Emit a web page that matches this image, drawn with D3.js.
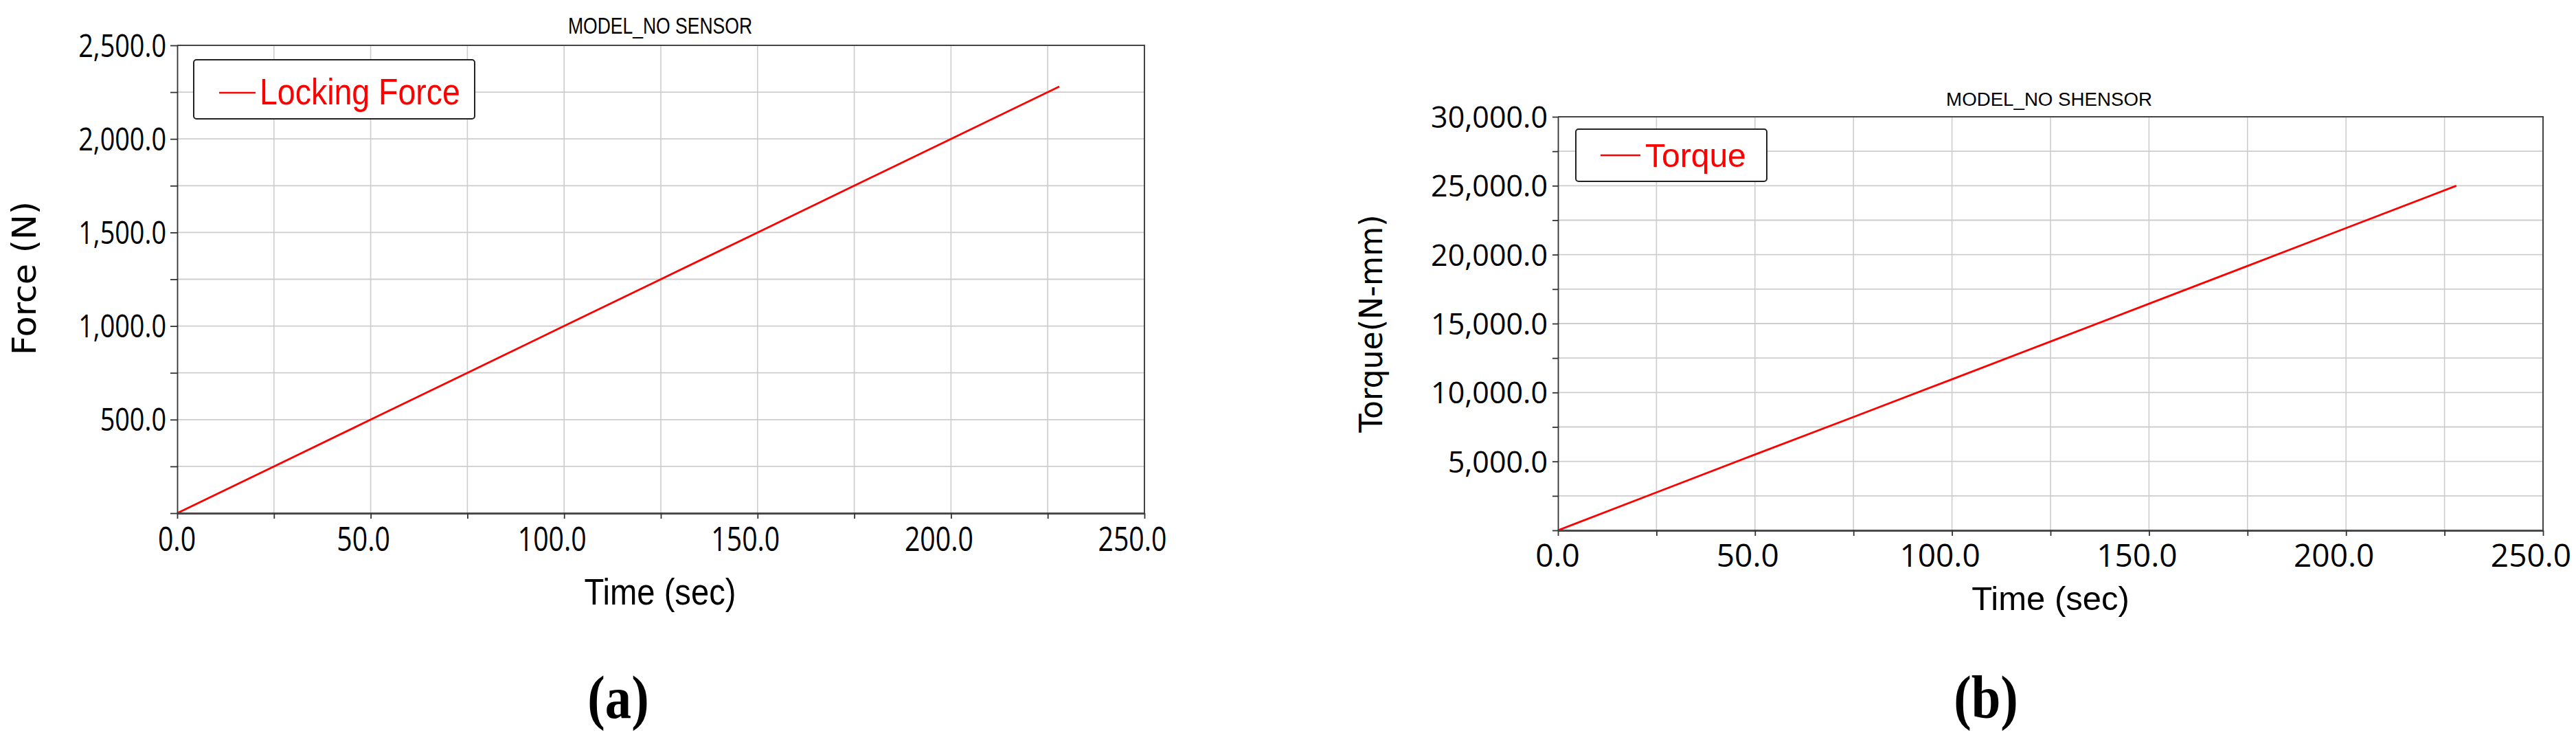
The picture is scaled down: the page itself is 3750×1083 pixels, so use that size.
<!DOCTYPE html>
<html>
<head>
<meta charset="utf-8">
<script src="https://cdn.jsdelivr.net/npm/d3@7"></script>
<style>
  html, body { margin: 0; padding: 0; background: #ffffff; }
  svg { display: block; }
</style>
</head>
<body>
<svg id="chart" width="3750" height="1083"></svg>
<script>
// ---------------- DATA ----------------
// Panel (a): Locking force vs time
const timeA  = [0, 25, 50, 75, 100, 125, 150, 175, 200, 228];
const forceA = [0, 250, 500, 750, 1000, 1250, 1500, 1750, 2000, 2280];
// Panel (b): Torque vs time
const timeB   = [0, 25, 50, 75, 100, 125, 150, 175, 200, 228];
const torqueB = [0, 2750, 5500, 8220, 10960, 13700, 16440, 19180, 21930, 25000];

// Axis ticks / labels
const xTicks      = [0, 25, 50, 75, 100, 125, 150, 175, 200, 225, 250];
const xTickLabels = [0, 50, 100, 150, 200, 250];
const yTicksA      = [0, 250, 500, 750, 1000, 1250, 1500, 1750, 2000, 2250, 2500];
const yTickLabelsA = [500, 1000, 1500, 2000, 2500];
const yTicksB      = [0, 2500, 5000, 7500, 10000, 12500, 15000, 17500, 20000, 22500, 25000, 27500, 30000];
const yTickLabelsB = [5000, 10000, 15000, 20000, 25000, 30000];

// Texts
const titleA = "MODEL_NO SENSOR";
const titleB = "MODEL_NO SHENSOR";
const seriesA = "Locking Force";
const seriesB = "Torque";
const yTitleA = "Force (N)";
const yTitleB = "Torque(N-mm)";
const xTitle  = "Time (sec)";
const captionA = "(a)";
const captionB = "(b)";

// ---------------- LAYOUT ----------------
const svg = d3.select("#chart");
svg.append("rect").attr("width", 3750).attr("height", 1083).attr("fill", "#ffffff");

const SANS = "'Liberation Sans', Arial, sans-serif";
const TICKF = "'Open Sans', 'Noto Sans', sans-serif";
const VERD = "'DejaVu Sans', Verdana, sans-serif";
const SERIF = "'Liberation Serif', 'Times New Roman', serif";

function txt(x, y, str, o) {
  const g = svg.append("g").attr("transform", `translate(${x},${y}) scale(${o.sx || 1},1)`);
  return g.append("text")
    .attr("x", 0).attr("y", 0)
    .attr("text-anchor", o.anchor || "start")
    .attr("font-family", o.family || SANS)
    .attr("font-size", o.size)
    .attr("font-weight", o.weight || "normal")
    .attr("fill", o.fill || "#000")
    .text(str);
}

function drawPanel(cfg) {
  const x = d3.scaleLinear().domain([0, 250]).range([cfg.left, cfg.right]);
  const y = d3.scaleLinear().domain([0, cfg.ymax]).range([cfg.bottom, cfg.top]);

  const grid = svg.append("g");
  grid.selectAll("line.v").data(xTicks.filter(d => d > 0 && d < 250)).enter().append("line")
    .attr("x1", d => x(d)).attr("x2", d => x(d))
    .attr("y1", cfg.top).attr("y2", cfg.bottom)
    .attr("stroke", "#cdcdcd").attr("stroke-width", 1.6);
  grid.selectAll("line.h").data(cfg.yTicks.filter(d => d > 0 && d < cfg.ymax)).enter().append("line")
    .attr("x1", cfg.left).attr("x2", cfg.right)
    .attr("y1", d => y(d)).attr("y2", d => y(d))
    .attr("stroke", "#cdcdcd").attr("stroke-width", 1.8);

  // top & right border
  svg.append("path")
    .attr("d", `M${cfg.left},${y(cfg.ymax)} H${x(250)} V${cfg.bottom}`)
    .attr("fill", "none").attr("stroke", "#444").attr("stroke-width", 2);

  // line series
  const pts = cfg.xs.map((t, i) => [t, cfg.ys[i]]);
  svg.append("path")
    .datum(pts)
    .attr("d", d3.line().x(d => x(d[0])).y(d => y(d[1])))
    .attr("fill", "none").attr("stroke", "#ff0000").attr("stroke-width", 2.8);

  // y axis
  const fmtY = d3.format(",.1f");
  const yAx = svg.append("g").attr("transform", `translate(${cfg.left},0)`)
    .call(d3.axisLeft(y).tickValues(cfg.yTicks).tickSize(cfg.yTickLen).tickSizeOuter(0)
      .tickFormat(d => cfg.yLabels.includes(d) ? fmtY(d) : ""));
  yAx.select(".domain").attr("stroke", "#333").attr("stroke-width", 1.8);
  yAx.selectAll(".tick line").attr("stroke", "#333").attr("stroke-width", 1.8);
  yAx.selectAll(".tick text")
    .attr("font-family", TICKF).attr("font-size", cfg.yTickSize).attr("fill", "#000")
    .attr("transform", `scale(${cfg.yTickSx},1)`)
    .attr("x", -cfg.yTickGap / cfg.yTickSx)
    .attr("dy", "0.357em");

  // x axis
  const fmtX = d3.format(".1f");
  const xAx = svg.append("g").attr("transform", `translate(0,${cfg.bottom})`)
    .call(d3.axisBottom(x).tickValues(xTicks).tickSize(8).tickSizeOuter(0)
      .tickFormat(d => xTickLabels.includes(d) ? fmtX(d) : ""));
  xAx.select(".domain").attr("stroke", "#4a4a4a").attr("stroke-width", 3);
  xAx.selectAll(".tick line").attr("stroke", "#333").attr("stroke-width", 1.8);
  xAx.selectAll(".tick text")
    .attr("font-family", TICKF).attr("font-size", cfg.xTickSize).attr("fill", "#000")
    .attr("transform", `scale(${cfg.xTickSx},1)`)
    .attr("x", d => (d === 0 ? -1 : d === 50 ? -11 : -18) / cfg.xTickSx)
    .attr("y", cfg.xTickBase)
    .attr("dy", null);

  // titles
  txt(cfg.titleX, cfg.titleY, cfg.title, { size: cfg.titleSize, sx: cfg.titleSx, anchor: "middle" });
  txt(cfg.xTitleX, cfg.xTitleY, xTitle, { size: cfg.xTitleSize, sx: cfg.xTitleSx, anchor: "middle" });
  svg.append("g").attr("transform", `translate(${cfg.yTitleX},${cfg.yTitleY}) rotate(-90)`)
    .append("text").attr("text-anchor", "middle")
    .attr("font-family", VERD).attr("font-size", cfg.yTitleSize).attr("fill", "#000")
    .attr("textLength", cfg.yTitleLen).attr("lengthAdjust", "spacingAndGlyphs")
    .text(cfg.yTitle);

  // legend
  const L = cfg.legend;
  svg.append("rect").attr("x", L.x0).attr("y", L.y0)
    .attr("width", L.x1 - L.x0).attr("height", L.y1 - L.y0)
    .attr("rx", 4).attr("fill", "#fff").attr("stroke", "#222").attr("stroke-width", 2);
  svg.append("line").attr("x1", L.lx0).attr("x2", L.lx1).attr("y1", L.ly).attr("y2", L.ly)
    .attr("stroke", "#ff0000").attr("stroke-width", 2.6);
  txt(L.tx, L.ty, cfg.series, { size: L.size, sx: L.sx, fill: "#ff0000" });

  // caption
  txt(cfg.capX, 1045, cfg.caption, { size: 88, sx: 0.87, anchor: "middle", family: SERIF, weight: "bold" });
}

drawPanel({
  xs: timeA, ys: forceA, ymax: 2500, yTicks: yTicksA, yLabels: yTickLabelsA,
  left: 258, right: 1666, top: 66, bottom: 747,
  yTickLen: 10, yTickSize: 45, yTickSx: 0.84, yTickGap: 16,
  xTickSize: 49, xTickSx: 0.8, xTickBase: 55,
  title: titleA, titleX: 961, titleY: 49, titleSize: 34, titleSx: 0.78,
  xTitleX: 961, xTitleY: 880, xTitleSize: 53, xTitleSx: 0.89,
  yTitle: yTitleA, yTitleX: 52, yTitleY: 405, yTitleSize: 48, yTitleLen: 224,
  series: seriesA,
  legend: { x0: 282, y0: 87, x1: 691, y1: 173, lx0: 319, lx1: 372, ly: 135, tx: 378, ty: 152, size: 53, sx: 0.877 },
  caption: captionA, capX: 900
});

drawPanel({
  xs: timeB, ys: torqueB, ymax: 30000, yTicks: yTicksB, yLabels: yTickLabelsB,
  left: 2268, right: 3702, top: 170, bottom: 772,
  yTickLen: 8, yTickSize: 43, yTickSx: 1.0, yTickGap: 15,
  xTickSize: 46, xTickSx: 1.0, xTickBase: 53,
  title: titleB, titleX: 2983, titleY: 154, titleSize: 28.4, titleSx: 0.975,
  xTitleX: 2985, xTitleY: 888, xTitleSize: 49, xTitleSx: 1.0,
  yTitle: yTitleB, yTitleX: 2012, yTitleY: 471, yTitleSize: 46, yTitleLen: 317,
  series: seriesB,
  legend: { x0: 2294, y0: 188, x1: 2572, y1: 264, lx0: 2330, lx1: 2388, ly: 226, tx: 2395, ty: 243, size: 49, sx: 0.98 },
  caption: captionB, capX: 2891
});
</script>
</body>
</html>
